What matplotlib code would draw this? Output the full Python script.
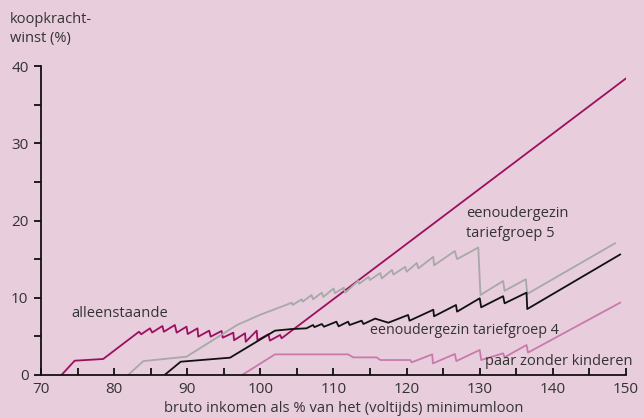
import matplotlib
matplotlib.use("Agg")
import matplotlib.pyplot as plt

# alleenstaande
alleen_x = [72.8, 74.6, 78.5, 83.4, 83.7, 84.9, 85.2, 86.6, 86.8, 88.3, 88.55, 89.9, 90.06,
            91.4, 91.5, 93.0, 93.2, 94.7, 94.85, 96.3, 96.4, 97.9, 98.0, 99.5, 99.6,
            101.1, 101.3, 102.7, 102.9, 150.0]
alleen_y = [0.0, 1.85, 2.07, 5.6, 5.27, 6.04, 5.5, 6.34, 5.6, 6.47, 5.48, 6.26, 5.3,
            6.04, 4.96, 5.74, 4.96, 5.7, 4.83, 5.48, 4.5, 5.4, 4.3, 5.74, 4.5,
            5.27, 4.45, 5.18, 4.75, 38.4]

# eenoudergezin tariefgroep 5
tg5_x = [81.9, 84.0, 89.9, 96.8, 99.9, 104.3, 104.4, 105.65, 105.8, 107.0, 107.2, 108.4, 108.6,
         110.0, 110.2, 111.4, 111.6, 113.4, 113.5, 114.8, 115.0, 116.4, 116.6, 118.0, 118.2,
         119.8, 120.0, 121.4, 121.6, 123.65, 123.75, 126.6, 126.9, 129.8, 130.1, 133.2, 133.4,
         136.3, 136.5, 148.5]
tg5_y = [0.0, 1.8, 2.37, 6.47, 7.77, 9.36, 9.06, 9.8, 9.5, 10.36, 9.8, 10.66, 10.1,
         11.2, 10.6, 11.3, 10.66, 12.2, 11.8, 12.7, 12.3, 13.2, 12.5, 13.6, 13.0,
         14.0, 13.37, 14.5, 13.8, 15.3, 14.2, 16.05, 15.0, 16.5, 10.36, 12.17, 10.9,
         12.4, 10.5, 17.05]

# eenoudergezin tariefgroep 4
tg4_x = [86.9, 89.1, 95.85, 102.0, 104.3, 106.3, 107.2, 107.4, 108.4, 108.7, 110.4, 110.7,
         112.0, 112.2, 113.85, 114.1, 115.7, 117.5, 120.2, 120.4, 123.65, 123.75, 126.75,
         126.9, 130.0, 130.2, 133.2, 133.4, 136.4, 136.5, 149.2]
tg4_y = [0.0, 1.72, 2.24, 5.74, 5.95, 6.04, 6.47, 6.2, 6.6, 6.25, 6.9, 6.3,
         6.9, 6.47, 7.03, 6.6, 7.3, 6.77, 7.77, 7.03, 8.45, 7.6, 9.06,
         8.2, 9.93, 8.76, 10.2, 9.28, 10.66, 8.54, 15.6]

# paar zonder kinderen
paar_x = [97.5, 102.0, 112.0, 112.7, 115.9, 116.4, 120.5, 120.7, 123.5, 123.6, 126.6, 126.8,
          130.0, 130.2, 133.2, 133.4, 136.4, 136.6, 149.2]
paar_y = [0.0, 2.67, 2.67, 2.28, 2.28, 1.94, 1.94, 1.64, 2.67, 1.5, 2.72, 1.8,
          3.24, 1.94, 2.8, 2.3, 3.88, 2.9, 9.36]

x_ticks = [70, 80, 90, 100, 110, 120, 130, 140, 150]
y_ticks = [0, 10, 20, 30, 40]

bg = "#e8cddc"
txt = "#333333"
plt.rcParams["font.family"] = ["Open Sans", "DejaVu Sans"]

fig = plt.figure(figsize=(6.44, 4.18), dpi=100, facecolor=bg)
ax = fig.add_axes([0.0637, 0.1029, 0.9083, 0.7391])
ax.set_facecolor(bg)

ax.plot(alleen_x, alleen_y, color="#9c0f5f", lw=1.3)
ax.plot(tg5_x, tg5_y, color="#a8a8a8", lw=1.3)
ax.plot(tg4_x, tg4_y, color="#111111", lw=1.3)
ax.plot(paar_x, paar_y, color="#c97aab", lw=1.3)

ax.set_xlim(70, 150)
ax.set_ylim(0, 40)
ax.set_xticks(x_ticks)
ax.set_yticks(y_ticks)
ax.set_xticks(range(75, 150, 10), minor=True)
ax.set_yticks(range(5, 40, 10), minor=True)
for s in ["top", "right"]:
    ax.spines[s].set_visible(False)
for s in ["left", "bottom"]:
    ax.spines[s].set_linewidth(1.3)
    ax.spines[s].set_color("#111111")
ax.tick_params(axis="x", which="both", direction="in", length=5, width=1.2,
               labelsize=11, labelcolor=txt, pad=5)
ax.tick_params(axis="y", which="both", direction="out", length=5, width=1.2,
               labelsize=11, labelcolor=txt, pad=4)
ax.set_xlabel("bruto inkomen als % van het (voltijds) minimumloon", fontsize=10.6,
              color=txt, labelpad=3)
ax.xaxis.set_label_coords(0.518, -0.085)

fig.text(10 / 644, 1 - 12 / 418, "koopkracht-\nwinst (%)", fontsize=10.5, color=txt,
         va="top", ha="left", linespacing=1.35)

ax.text(74.2, 7.9, "alleenstaande", fontsize=10.6, color=txt, va="center")
ax.text(115.0, 5.8, "eenoudergezin tariefgroep 4", fontsize=10.3, color=txt, va="center")
ax.text(128.1, 19.6, "eenoudergezin\ntariefgroep 5", fontsize=10.5, color=txt, va="center",
        ha="left", linespacing=1.45)
ax.text(150.9, 1.8, "paar zonder kinderen", fontsize=10.5, color=txt, va="center", ha="right")

fig.savefig("out.png", dpi=100, facecolor=bg)
